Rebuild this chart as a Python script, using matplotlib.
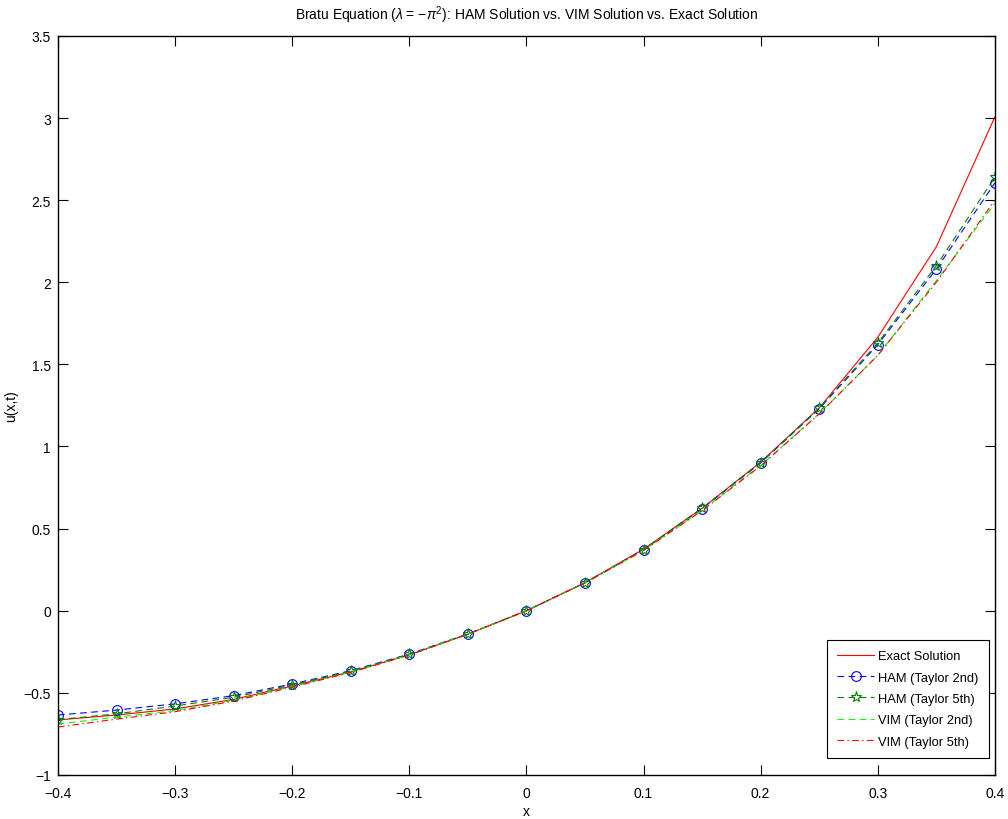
import numpy as np
import matplotlib
matplotlib.use("Agg")
import matplotlib.pyplot as plt

plt.rcParams['font.family'] = ['Liberation Sans', 'DejaVu Sans']
plt.rcParams['mathtext.fontset'] = 'custom'
plt.rcParams['mathtext.rm'] = 'Liberation Sans'
plt.rcParams['mathtext.it'] = 'Liberation Sans:italic'

# Values
x = [-0.4, -0.35, -0.3, -0.25, -0.2, -0.15, -0.1, -0.05, 0.0,
     0.05, 0.1, 0.15, 0.2, 0.25, 0.3, 0.35, 0.4]
exact = [-0.665, -0.635, -0.598, -0.540, -0.458, -0.372, -0.268, -0.143, 0.0,
         0.171, 0.375, 0.624, 0.905, 1.235, 1.665, 2.216, 3.007]
ham_2nd = [-0.635, -0.605, -0.567, -0.517, -0.446, -0.365, -0.264, -0.141, 0.0,
           0.170, 0.372, 0.622, 0.900, 1.230, 1.620, 2.080, 2.605]
ham_5th = [-0.663, -0.628, -0.580, -0.527, -0.452, -0.368, -0.266, -0.142, 0.0,
           0.170, 0.372, 0.624, 0.902, 1.234, 1.630, 2.100, 2.640]
vim_2nd = [-0.690, -0.648, -0.608, -0.545, -0.462, -0.374, -0.269, -0.143, 0.0,
           0.169, 0.368, 0.612, 0.885, 1.200, 1.555, 2.010, 2.480]
vim_5th = [-0.708, -0.660, -0.615, -0.550, -0.465, -0.376, -0.270, -0.143, 0.0,
           0.169, 0.367, 0.610, 0.882, 1.198, 1.555, 2.000, 2.500]

fig = plt.figure(figsize=(10.08, 8.2), dpi=100)
ax = fig.add_axes([0.0575, 0.0537, 0.9295, 0.9013])

lw = 0.8
ax.plot(x, exact, color="red", linewidth=lw, label="Exact Solution")
ax.plot(x, ham_2nd, color="blue", linewidth=lw, dashes=(6, 4), marker="o",
        markersize=7, markerfacecolor="none", markeredgecolor="blue",
        markeredgewidth=0.8, label="HAM (Taylor 2nd)")
ax.plot(x, ham_5th, color=(0, 0.5, 0), linewidth=lw, dashes=(6, 4), marker="*",
        markersize=8, markerfacecolor="none", markeredgecolor=(0, 0.5, 0),
        markeredgewidth=0.8, label="HAM (Taylor 5th)")
ax.plot(x, vim_2nd, color=(0, 1, 0), linewidth=lw, dashes=(6, 4),
        label="VIM (Taylor 2nd)")
ax.plot(x, vim_5th, color=(1, 0, 0), linewidth=lw, dashes=(6, 3, 1.2, 3),
        label="VIM (Taylor 5th)")

ax.set_xlim(-0.4, 0.4)
ax.set_ylim(-1, 3.5)
ax.set_xticks(np.arange(-0.4, 0.41, 0.1))
ax.set_xticklabels(["\u22120.4", "\u22120.3", "\u22120.2", "\u22120.1", "0",
                    "0.1", "0.2", "0.3", "0.4"])
ax.set_yticks(np.arange(-1, 3.51, 0.5))
ax.set_yticklabels(["\u22121", "\u22120.5", "0", "0.5", "1", "1.5", "2",
                    "2.5", "3", "3.5"])
ax.tick_params(direction="in", length=7, width=0.8, top=True, right=True,
               labelsize=10)
ax.tick_params(axis="x", pad=8)
ax.tick_params(axis="y", pad=5)
for s in ax.spines.values():
    s.set_linewidth(1.0)

ax.set_xlabel("x", fontsize=10, labelpad=3)
ax.set_ylabel("u(x,t)", fontsize=10, labelpad=4)
ax.set_title(r"Bratu Equation ($\lambda$ = $-\pi^2$): HAM Solution vs. VIM Solution vs. Exact Solution",
             fontsize=10, pad=12)

leg = ax.legend(loc="lower right", bbox_to_anchor=(0.9936, 0.023),
                borderaxespad=0, fontsize=9.3, fancybox=False, framealpha=1,
                edgecolor="black", borderpad=0.8, handlelength=2.9,
                handletextpad=0.3, labelspacing=0.72)
leg.get_frame().set_linewidth(0.8)

fig.savefig("out.png", dpi=100)
